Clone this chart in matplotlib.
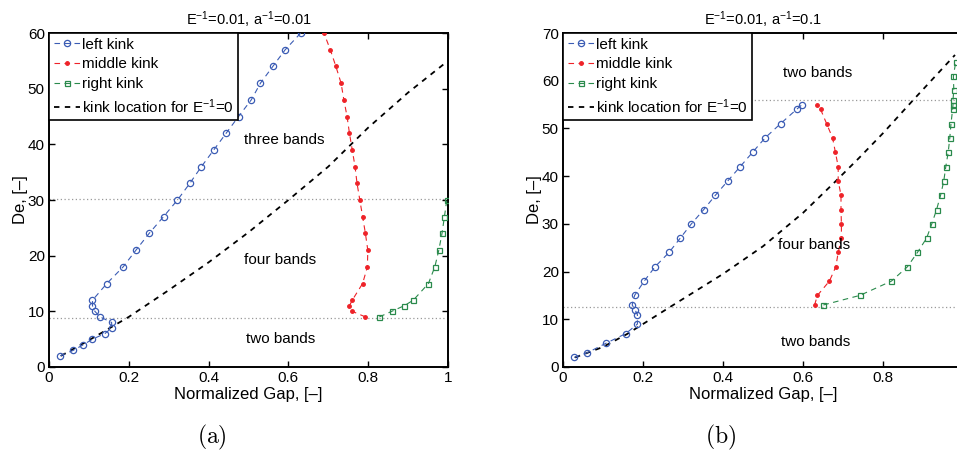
import numpy as np
import matplotlib
matplotlib.use('Agg')
import matplotlib.pyplot as plt

plt.rcParams['font.family'] = ['Liberation Sans', 'DejaVu Sans']
plt.rcParams['mathtext.fontset'] = 'custom'
plt.rcParams['mathtext.rm'] = 'Liberation Sans'
plt.rcParams['mathtext.it'] = 'Liberation Sans'

# ---- panel (a): E^-1=0.01, a^-1=0.01
a_left_de = [2, 3, 4, 5, 6, 7, 8, 9, 10, 11, 12, 15, 18, 21, 24, 27, 30, 33, 36, 39, 42, 45, 48, 51, 54, 57, 60]
a_left_gap = [0.028, 0.061, 0.086, 0.109, 0.140, 0.157, 0.157, 0.128, 0.115, 0.109, 0.109, 0.145, 0.186, 0.218,
              0.251, 0.287, 0.322, 0.353, 0.382, 0.413, 0.444, 0.475, 0.507, 0.530, 0.561, 0.592, 0.631]
a_mid_de = [9, 10, 11, 12, 15, 18, 21, 24, 27, 30, 33, 36, 39, 42, 45, 48, 51, 54, 57, 60]
a_mid_gap = [0.793, 0.760, 0.753, 0.760, 0.786, 0.798, 0.799, 0.793, 0.786, 0.779, 0.772, 0.767, 0.760,
             0.753, 0.747, 0.739, 0.732, 0.719, 0.705, 0.689]
a_right_de = [9, 10, 11, 12, 15, 18, 21, 24, 27, 30]
a_right_gap = [0.828, 0.859, 0.890, 0.913, 0.951, 0.967, 0.977, 0.985, 0.991, 0.997]
a_ref_gap = [0.03, 0.1, 0.2, 0.3, 0.4, 0.5, 0.6, 0.7, 0.8, 0.9, 1.0]
a_ref_de = [2, 4.8, 9, 13.8, 18.8, 24.2, 30, 36, 43, 49.3, 55]
a_bounds = [30.1, 8.8]

# ---- panel (b): E^-1=0.01, a^-1=0.1
b_left_de = [2, 3, 5, 7, 9, 11, 12, 13, 15, 18, 21, 24, 27, 30, 33, 36, 39, 42, 45, 48, 51, 54, 55]
b_left_gap = [0.028, 0.061, 0.108, 0.157, 0.186, 0.186, 0.180, 0.173, 0.179, 0.203, 0.230, 0.265, 0.293,
              0.321, 0.352, 0.381, 0.412, 0.443, 0.474, 0.505, 0.544, 0.584, 0.598]
b_mid_de = [13, 15, 18, 21, 24, 27, 30, 33, 36, 39, 42, 45, 48, 51, 54, 55]
b_mid_gap = [0.629, 0.636, 0.666, 0.682, 0.688, 0.696, 0.696, 0.695, 0.695, 0.688, 0.688, 0.681, 0.674,
             0.659, 0.644, 0.636]
b_right_de = [13, 15, 18, 21, 24, 27, 30, 33, 36, 39, 42, 45, 48, 51, 54, 55, 56, 58, 61, 64]
b_right_gap = [0.651, 0.742, 0.821, 0.861, 0.886, 0.909, 0.922, 0.934, 0.944, 0.952, 0.957, 0.963, 0.967,
               0.970, 0.974, 0.975, 0.975, 0.977, 0.976, 0.982]
b_ref_gap = [0.03, 0.1, 0.16, 0.27, 0.4, 0.5, 0.6, 0.68, 0.74, 0.8, 0.876, 0.98]
b_ref_de = [2, 4.2, 6.9, 12.7, 19.5, 25.3, 32.3, 38.8, 43.8, 49, 56, 65.4]
b_bounds = [56, 12.5]

blue = '#3b5cb4'
red = '#ee2228'
green = '#2a8a4c'

fig = plt.figure(figsize=(9.57, 4.55), dpi=100)
W, H = 957, 455


def panel(ax, title, left, mid, right, ref, bounds, ymax, yticks, xticks, labels):
    for y in bounds:
        ax.axhline(y, color='#999999', ls=(0, (1, 2)), lw=0.9, zorder=1)
    ax.plot(left[0], left[1], '--', color=blue, marker='o', ms=4.5, mfc='none', mew=0.9, lw=0.8,
            dashes=(5, 4), label='left kink', zorder=3)
    ax.plot(mid[0], mid[1], '--', color=red, marker='.', ms=5, lw=0.8, dashes=(5, 4),
            label='middle kink', zorder=3)
    ax.plot(right[0], right[1], '--', color=green, marker='s', ms=3.6, mfc='none', mew=0.9, lw=0.8,
            dashes=(5, 4), label='right kink', zorder=3)
    ax.plot(ref[0], ref[1], '--', color='black', lw=1.3, dashes=(3, 3),
            label='kink location for E$^{-1}$=0', zorder=2)
    for x, y, s in labels:
        ax.text(x, y, s, ha='center', va='center', fontsize=11)
    ax.set_ylim(0, ymax)
    ax.set_yticks(yticks)
    ax.set_xticks(xticks)
    ax.set_xticklabels(['0' if t == 0 else ('1' if t == 1 else '%g' % t) for t in xticks])
    ax.tick_params(direction='in', top=True, right=True, labelsize=11, length=4, width=1, pad=3)
    for sp in ax.spines.values():
        sp.set_linewidth(1.4)
    ax.set_title(title, fontsize=10.5, pad=6)
    ax.set_xlabel('Normalized Gap, [\u2013]', fontsize=12, labelpad=1)
    ax.set_ylabel('De, [\u2013]', fontsize=12, labelpad=0)
    leg = ax.legend(loc='upper left', fontsize=11, frameon=True, fancybox=False, framealpha=1,
                    edgecolor='black', borderaxespad=0, handlelength=1.7, handletextpad=0.15,
                    borderpad=0.3, labelspacing=0.38)
    leg.get_frame().set_linewidth(1.2)


ax1 = fig.add_axes([49 / W, (H - 367) / H, 399 / W, 334 / H])
ax1.set_xlim(0, 1)
panel(ax1, 'E$^{-1}$=0.01, a$^{-1}$=0.01',
      (a_left_gap, a_left_de), (a_mid_gap, a_mid_de), (a_right_gap, a_right_de),
      (a_ref_gap, a_ref_de), a_bounds, 60, range(0, 61, 10), [0, 0.2, 0.4, 0.6, 0.8, 1],
      [(0.59, 40.8, 'three bands'), (0.58, 19.2, 'four bands'), (0.58, 5.0, 'two bands')])

ax2 = fig.add_axes([563 / W, (H - 367) / H, 400 / W, 334 / H])
ax2.set_xlim(0, 1)
panel(ax2, 'E$^{-1}$=0.01, a$^{-1}$=0.1',
      (b_left_gap, b_left_de), (b_mid_gap, b_mid_de), (b_right_gap, b_right_de),
      (b_ref_gap, b_ref_de), b_bounds, 70, range(0, 71, 10), [0, 0.2, 0.4, 0.6, 0.8],
      [(0.636, 61.6, 'two bands'), (0.6275, 25.6, 'four bands'), (0.632, 5.2, 'two bands')])

fig.text(212 / W, 1 - 437 / H, r'$\mathrm{(a)}$', ha='center', va='center', fontsize=17, math_fontfamily='cm')
fig.text(721 / W, 1 - 437 / H, r'$\mathrm{(b)}$', ha='center', va='center', fontsize=17, math_fontfamily='cm')

fig.savefig('out.png', dpi=100)
